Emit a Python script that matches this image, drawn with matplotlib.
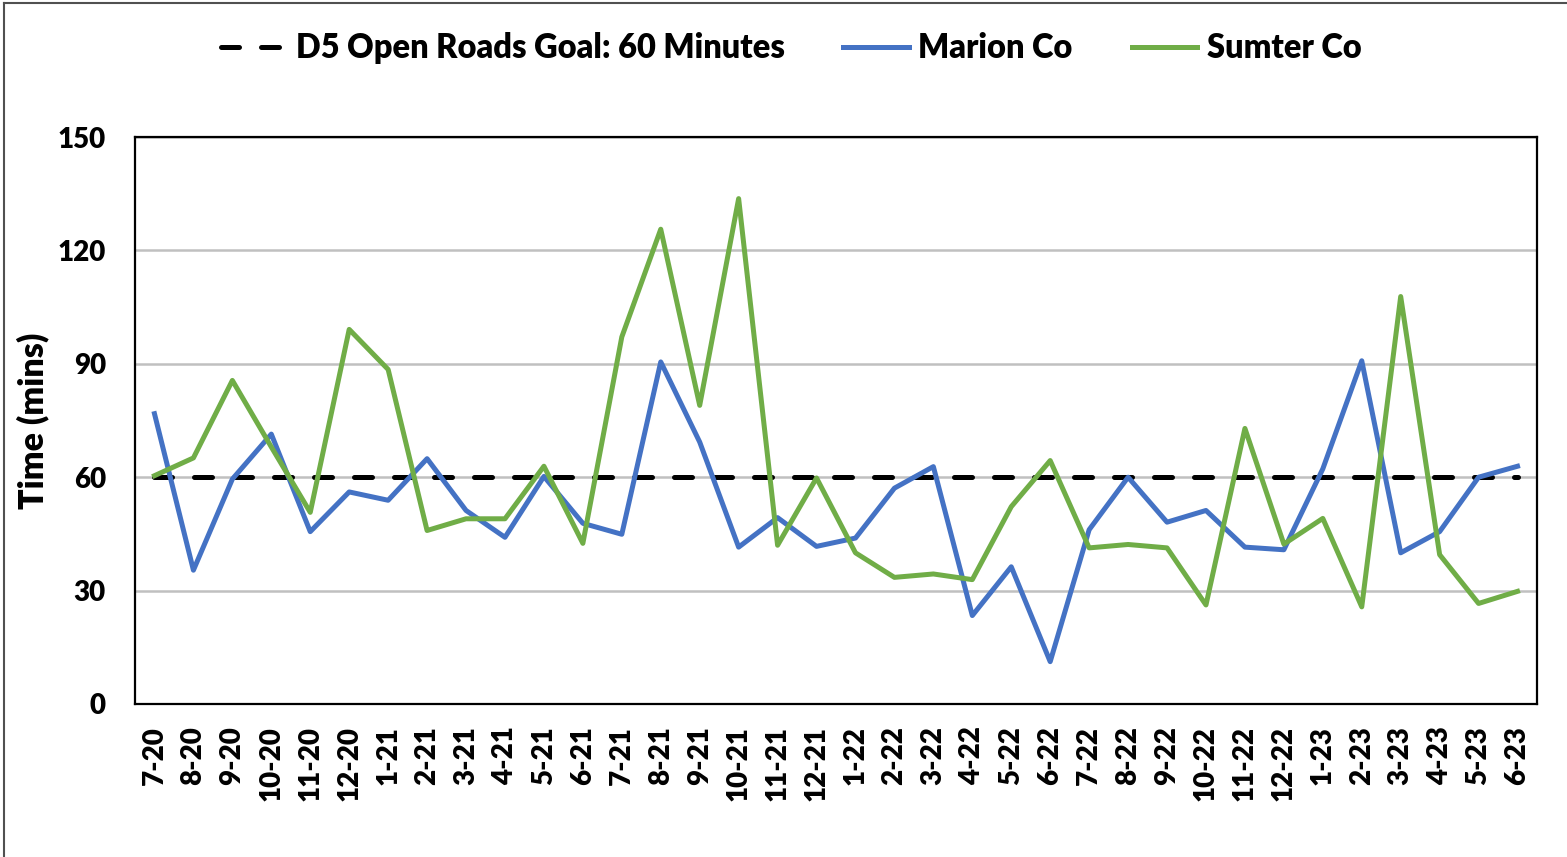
import matplotlib
matplotlib.use("Agg")
import matplotlib.pyplot as plt
from matplotlib.lines import Line2D

months = ["7-20", "8-20", "9-20", "10-20", "11-20", "12-20", "1-21", "2-21", "3-21", "4-21",
          "5-21", "6-21", "7-21", "8-21", "9-21", "10-21", "11-21", "12-21", "1-22", "2-22",
          "3-22", "4-22", "5-22", "6-22", "7-22", "8-22", "9-22", "10-22", "11-22", "12-22",
          "1-23", "2-23", "3-23", "4-23", "5-23", "6-23"]
marion = [76.8, 35.4, 59.5, 71.4, 45.6, 56.1, 53.9, 64.9, 51.2, 44.1,
          60.2, 47.8, 44.9, 90.5, 69.3, 41.5, 49.3, 41.7, 43.9, 57.1,
          62.8, 23.4, 36.3, 11.2, 46.1, 60.0, 48.1, 51.2, 41.5, 40.8,
          62.2, 90.8, 40.0, 45.6, 60.0, 62.9]
sumter = [60.4, 65.1, 85.6, 68.0, 50.7, 99.1, 88.5, 45.9, 49.0, 49.0,
          62.9, 42.5, 97.1, 125.6, 79.0, 133.7, 42.0, 59.8, 40.0, 33.5,
          34.4, 32.9, 52.2, 64.4, 41.3, 42.2, 41.3, 26.2, 72.9, 42.3,
          49.1, 25.7, 107.8, 39.5, 26.6, 29.8]
goal = 60
yticks = [0, 30, 60, 90, 120, 150]

W, H = 1567, 857
fig = plt.figure(figsize=(W / 100, H / 100), dpi=100)
FONT = "Lato"
WT = "heavy"

ax = fig.add_axes([135 / W, 1 - 704 / H, (1537 - 135) / W, (704 - 137) / H])
x = list(range(len(months)))

ax.plot(x, [goal] * len(x), color="black", lw=3.6, linestyle=(0, (3.6, 4.4)),
        dash_capstyle="round", zorder=3, label="D5 Open Roads Goal: 60 Minutes")
ax.plot(x, marion, color="#4472C4", lw=3.6, solid_joinstyle="round", zorder=4, label="Marion Co")
ax.plot(x, sumter, color="#70AD47", lw=3.6, solid_joinstyle="round", zorder=5, label="Sumter Co")

ax.set_xlim(-0.5, len(months) - 0.5)
ax.set_ylim(0, 150)
ax.set_yticks(yticks)
ax.set_xticks(x)
ax.set_xticklabels(months, rotation=90, fontsize=20, fontweight=WT, family=FONT)
ax.set_yticklabels([str(v) for v in yticks], fontsize=20, fontweight=WT, family=FONT)
ax.tick_params(axis="both", length=0)
ax.tick_params(axis="y", pad=21)
ax.tick_params(axis="x", pad=16)
ax.grid(axis="y", color="#C0C0C0", lw=1.8, zorder=1)
ax.set_axisbelow(True)
for s in ax.spines.values():
    s.set_color("black")
    s.set_linewidth(1.6)

ax.set_ylabel("Time (mins)", fontsize=24.5, fontweight=WT, family=FONT)
ax.yaxis.set_label_coords((49 - 135) / (1537 - 135), 0.5)

leg = fig.legend(loc="center", bbox_to_anchor=(791 / W, 1 - 48 / H), ncol=3, frameon=False,
                 prop={"family": FONT, "weight": WT, "size": 23.5}, handlelength=2.0,
                 handletextpad=0.3, columnspacing=1.8)

# outer chart frame
fig.add_artist(Line2D([4 / W, 4 / W], [0, 1 - 3 / H], transform=fig.transFigure, color="#505050", lw=1.5))
fig.add_artist(Line2D([4 / W, 1], [1 - 3 / H, 1 - 3 / H], transform=fig.transFigure, color="#505050", lw=1.5))

fig.savefig("out.png", dpi=100)
